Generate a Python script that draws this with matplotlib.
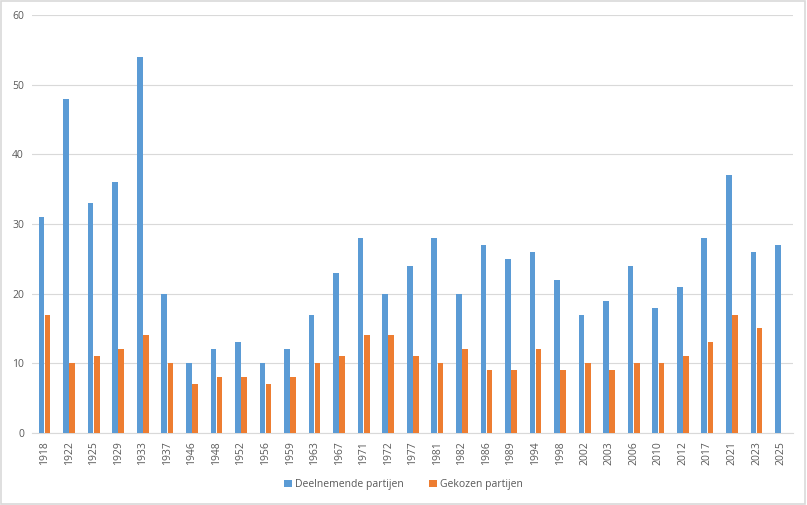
import matplotlib.pyplot as plt
import numpy as np

years = ['1918', '1922', '1925', '1929', '1933', '1937', '1946', '1948', '1952', '1956',
         '1959', '1963', '1967', '1971', '1972', '1977', '1981', '1982', '1986', '1989',
         '1994', '1998', '2002', '2003', '2006', '2010', '2012', '2017', '2021', '2023', '2025']
deelnemend = [31, 48, 33, 36, 54, 20, 10, 12, 13, 10, 12, 17, 23, 28, 20, 24, 28, 20, 27, 25,
              26, 22, 17, 19, 24, 18, 21, 28, 37, 26, 27]
gekozen = [17, 10, 11, 12, 14, 10, 7, 8, 8, 7, 8, 10, 11, 14, 14, 11, 10, 12, 9, 9,
           12, 9, 10, 9, 10, 10, 11, 13, 17, 15, np.nan]

plt.rcParams['font.family'] = ['Open Sans', 'DejaVu Sans']
txt = '#595959'

fig = plt.figure(figsize=(8.07, 5.05), dpi=100)
ax = fig.add_axes([0.04, 0.1426, 0.943, 0.8277])

x = np.arange(len(years))
w = 0.23
ax.bar(x - 0.125, deelnemend, w, color='#5b9bd5', label='Deelnemende partijen', zorder=3)
ax.bar(x + 0.125, gekozen, w, color='#ed7d31', label='Gekozen partijen', zorder=3)

ax.set_xlim(-0.5, len(years) - 0.5)
ax.set_ylim(0, 60)
ax.set_yticks(range(0, 61, 10))
ax.set_xticks(x)
ax.set_xticklabels(years, rotation=90)
ax.tick_params(length=0, labelsize=7.5, colors=txt, pad=6)
ax.grid(axis='y', color='#d9d9d9', linewidth=0.8, zorder=0)
for s in ['top', 'right', 'left']:
    ax.spines[s].set_visible(False)
ax.spines['bottom'].set_color('#d9d9d9')

fig.legend(loc='center', bbox_to_anchor=(0.5, 0.04), ncol=2, frameon=False,
           fontsize=7.5, labelcolor=txt, handlelength=0.7, handleheight=0.7,
           columnspacing=2.5, handletextpad=0.3)

fig.patches.append(plt.Rectangle((0.001, 0.001), 0.997, 0.997, transform=fig.transFigure,
                                 fill=False, edgecolor='#d9d9d9', linewidth=1.2))
fig.savefig('out.png', dpi=100)
